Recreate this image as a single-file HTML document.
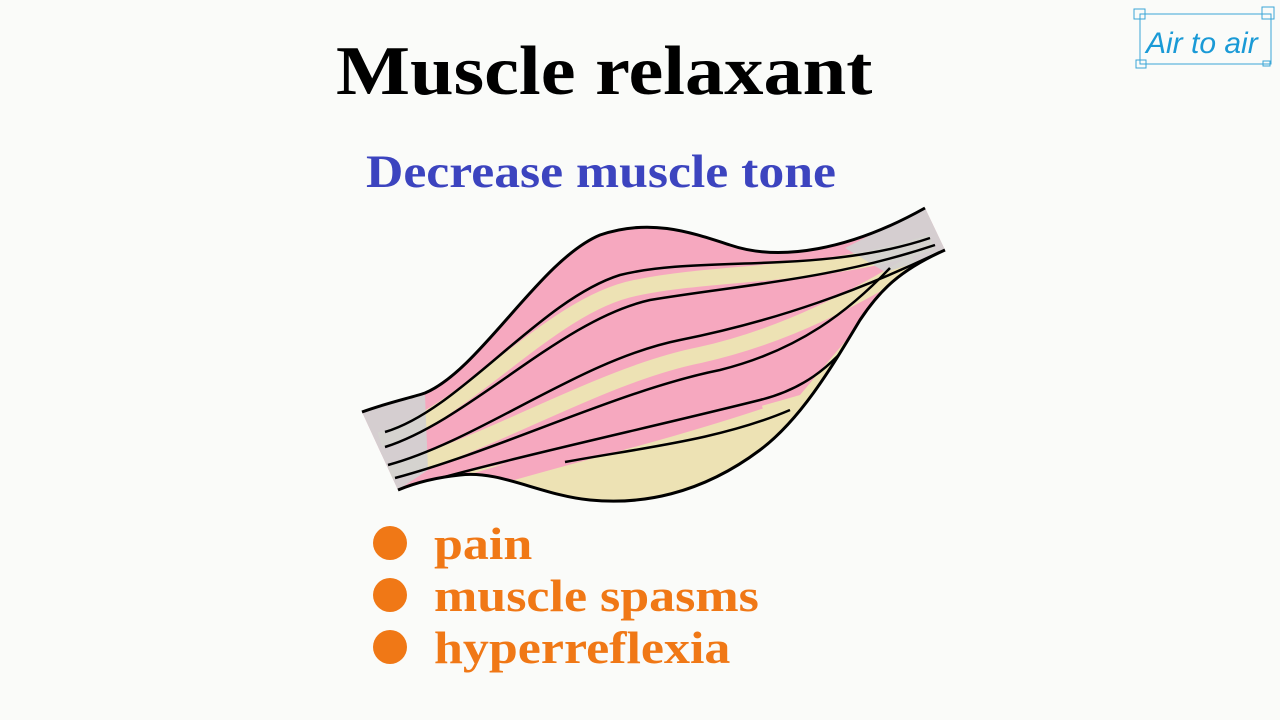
<!DOCTYPE html>
<html><head><style>
body{margin:0;width:1280px;height:720px;background:#fafbf9;position:relative;overflow:hidden;font-family:"Liberation Serif",serif;}
.t{position:absolute;white-space:nowrap;font-weight:bold;transform-origin:0 0;}
</style></head><body>
<div class="t" style="left:336px;top:32px;font-size:70px;color:#000;transform:scaleX(1.12);">Muscle relaxant</div>
<div class="t" style="left:366px;top:145px;font-size:47px;color:#3c44bf;transform:scaleX(1.10);">Decrease muscle tone</div>
<div class="t" style="left:434px;top:517px;font-size:46px;color:#f07816;transform:scaleX(1.13);">pain</div>
<div class="t" style="left:434px;top:569px;font-size:46px;color:#f07816;transform:scaleX(1.13);">muscle spasms</div>
<div class="t" style="left:434px;top:621px;font-size:46px;color:#f07816;transform:scaleX(1.13);">hyperreflexia</div>
<svg width="1280" height="720" style="position:absolute;left:0;top:0">
<circle cx="390" cy="543" r="17" fill="#f07816"/>
<circle cx="390" cy="595" r="17" fill="#f07816"/>
<circle cx="390" cy="647" r="17" fill="#f07816"/>
<defs><clipPath id="c"><path d="M362,412 C390,402 410,398 425,393 C480,370 540,260 600,235 C650,218 690,232 730,245 C780,262 850,250 925,208 L945,250 C900,270 880,290 860,320 C830,370 800,420 760,450 C700,495 640,505 590,500 C540,495 500,470 460,475 C430,478 410,485 398,490 Z"/></clipPath></defs>
<g clip-path="url(#c)">
<rect x="350" y="200" width="610" height="310" fill="#f6a8bf"/>
<path d="M380,440 C465,415 550,305 635,288 C720,270 825,278 932,242" stroke="#ede2b4" stroke-width="16" fill="none"/>
<path d="M390,472 C490,445 600,375 700,355 C790,335 860,295 915,262" stroke="#ede2b4" stroke-width="16" fill="none"/>
<path d="M470,470 C560,455 680,430 800,395 L880,300 L960,260 L960,520 L470,520 Z" fill="#ede2b4"/>
<path d="M420,500 C520,465 640,440 760,400" stroke="#f6a8bf" stroke-width="18" fill="none"/>
<path d="M360,405 L425,395 L428,470 L395,492 L360,490 Z" fill="#d2d2d2" opacity="0.9"/>
<path d="M845,248 L930,205 L960,250 L885,272 Z" fill="#d2d2d2" opacity="0.9"/>
<g fill="none" stroke="#000" stroke-width="2.5">
<path d="M385,432 C460,410 540,300 620,275 C700,255 820,275 930,238"/>
<path d="M385,447 C470,420 560,320 650,300 C740,285 830,280 935,245"/>
<path d="M388,465 C480,440 580,360 680,340 C780,320 860,290 940,252"/>
<path d="M395,478 C500,450 620,390 720,370 C800,350 850,310 890,268"/>
<path d="M405,488 C500,460 640,430 760,400 C800,390 830,370 860,330"/>
<path d="M565,462 C640,448 720,440 790,410"/>
</g>
</g>
<g fill="none" stroke="#000" stroke-width="3">
<path d="M362,412 C390,402 410,398 425,393 C480,370 540,260 600,235 C650,218 690,232 730,245 C780,262 850,250 925,208"/>
<path d="M945,250 C900,270 880,290 860,320 C830,370 800,420 760,450 C700,495 640,505 590,500 C540,495 500,470 460,475 C430,478 410,485 398,490"/>
</g>
<g fill="none" stroke="#3aa6d6" stroke-width="1">
<rect x="1140" y="14" width="131" height="50"/>
<rect x="1134" y="9" width="11" height="10"/><rect x="1262" y="7" width="12" height="12"/>
<rect x="1136" y="60" width="10" height="8"/><rect x="1263" y="61" width="7" height="5"/>
</g>
<text x="1146" y="53" font-family="Liberation Sans,sans-serif" font-style="italic" font-size="30" fill="#1a9ad6">Air to air</text>
</svg>
</body></html>
